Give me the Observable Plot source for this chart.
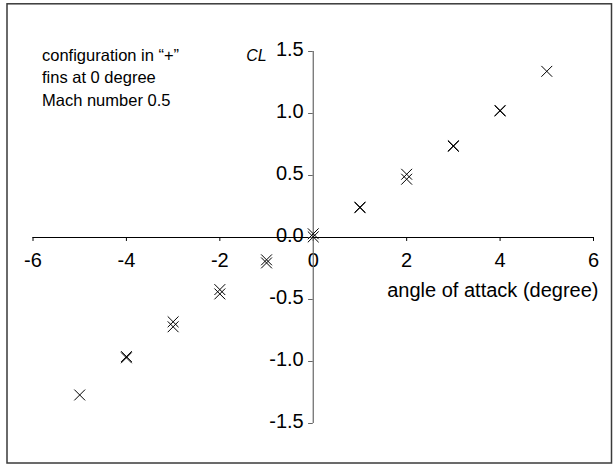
<!DOCTYPE html>
<html>
<head>
<meta charset="utf-8">
<script src="https://cdn.jsdelivr.net/npm/d3@7"></script>
<script src="https://cdn.jsdelivr.net/npm/@observablehq/plot@0.6"></script>
<style>
  html, body { margin: 0; padding: 0; background: #fff; }
  #chart svg { display: block; }
</style>
</head>
<body>
<div id="chart"></div>
<script>
// Angle of attack (degrees) and measured lift coefficient for two runs
const alpha = [-5, -4, -3, -2, -1, 0, 1, 2, 3, 4, 5];
const clRun1 = [-1.27, -0.96, -0.68, -0.42, -0.18, 0.03, 0.245, 0.51, 0.735, 1.025, null];
const clRun2 = [null, -0.97, -0.72, -0.455, -0.205, 0.005, 0.24, 0.47, 0.74, 1.02, 1.34];

// Axis ticks
const xTicks = [-6, -4, -2, 0, 2, 4, 6];
const yTicks = [-1.5, -1.0, -0.5, 0.0, 0.5, 1.0, 1.5];

// Annotation lines
const notes = ["configuration in \u201c+\u201d", "fins at 0 degree", "Mach number 0.5"];

const points = [];
alpha.forEach((a, i) => {
  if (clRun1[i] != null) points.push({alpha: a, cl: clRun1[i], run: 1});
  if (clRun2[i] != null) points.push({alpha: a, cl: clRun2[i], run: 2});
});

const font = "'Liberation Sans', Arial, Helvetica, sans-serif";
const fmtX = d => String(d);
const fmtY = d => d.toFixed(1);

const chart = Plot.plot({
  width: 613,
  height: 464,
  marginLeft: 32.5,
  marginRight: 20,
  marginTop: 51,
  marginBottom: 41,
  style: {fontFamily: font, background: "#fff", color: "#000"},
  x: {domain: [-6, 6], axis: null},
  y: {domain: [-1.5, 1.5], axis: null},
  marks: [
    // outer border
    Plot.frame({stroke: "#3a3a3a", strokeWidth: 1.5,
      insetLeft: -26, insetRight: -18, insetTop: -47.7, insetBottom: -39.5}),
    // x axis through the origin
    Plot.ruleY([0], {stroke: "#000", strokeWidth: 1.2}),
    Plot.ruleX(xTicks, {x: d => d, y1: 0, y2: -0.032, stroke: "#000"}),
    Plot.text(xTicks, {x: d => d, y: 0, text: fmtX, dy: 23, fontSize: 20, fill: "#000"}),
    Plot.text(["angle of attack (degree)"], {x: 6, y: 0, text: d => d, textAnchor: "end",
      dx: 5, dy: 53, fontSize: 20, fill: "#000"}),
    // y axis through the origin
    Plot.ruleX([0], {y1: -1.5, y2: 1.5, stroke: "#666", strokeWidth: 1.2}),
    Plot.ruleY(yTicks, {y: d => d, x1: 0, x2: -0.1, stroke: "#666"}),
    Plot.text(yTicks, {x: 0, y: d => d, text: fmtY, textAnchor: "end", dx: -9.5, dy: -2,
      fontSize: 20, fill: "#000"}),
    Plot.text(["CL"], {x: 0, y: 1.5, text: d => d, textAnchor: "end", dx: -46.5, dy: 4,
      fontSize: 16, fontStyle: "italic", fill: "#000"}),
    // annotation block
    Plot.text([notes.join("\n")], {frameAnchor: "top-left", text: d => d, textAnchor: "start",
      lineAnchor: "top", lineHeight: 1.36, dx: 9, dy: -6.5, fontSize: 16.5, fill: "#000"}),
    // measurements
    Plot.dot(points, {x: "alpha", y: "cl", symbol: "times", r: 5, stroke: "#000", strokeWidth: 1})
  ]
});

document.getElementById("chart").appendChild(chart);
</script>
</body>
</html>
